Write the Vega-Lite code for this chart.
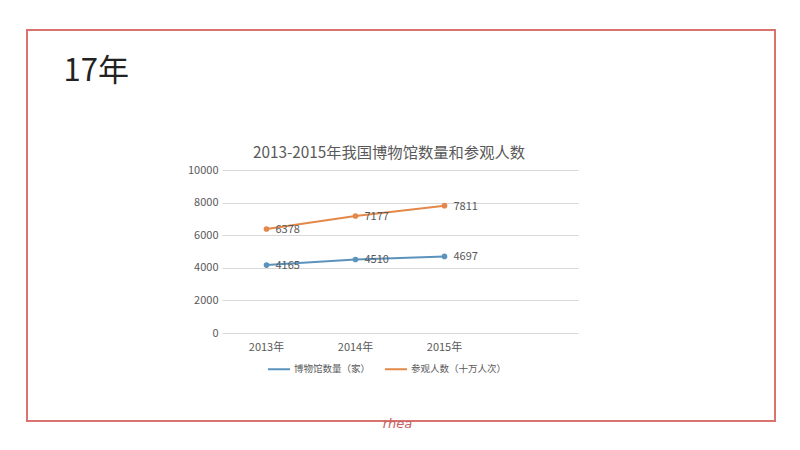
{
  "$schema": "https://vega.github.io/schema/vega-lite/v6.json",
  "autosize": "none",
  "width": 748,
  "height": 391,
  "padding": {"left": 27, "top": 30, "right": 25, "bottom": 29},
  "background": "white",
  "config": {
    "view": {"stroke": "#d8736f", "strokeWidth": 2},
    "font": "Noto Sans CJK SC"
  },
  "title": {
    "text": "2013-2015年我国博物馆数量和参观人数",
    "anchor": "middle",
    "frame": "group",
    "dx": -12,
    "offset": -131,
    "fontSize": 15.3,
    "fontWeight": "normal",
    "color": "#595959",
    "font": "Noto Sans CJK SC"
  },
  "data": {
    "values": [
      {"year": "2013年", "series": "博物馆数量（家）", "value": 4165},
      {"year": "2014年", "series": "博物馆数量（家）", "value": 4510},
      {"year": "2015年", "series": "博物馆数量（家）", "value": 4697},
      {"year": "2013年", "series": "参观人数（十万人次）", "value": 6378},
      {"year": "2014年", "series": "参观人数（十万人次）", "value": 7177},
      {"year": "2015年", "series": "参观人数（十万人次）", "value": 7811}
    ]
  },
  "encoding": {
    "x": {
      "field": "year",
      "type": "nominal",
      "scale": {"type": "band", "domain": ["2013年", "2014年", "2015年", "_"], "range": [195, 551], "paddingInner": 0, "paddingOuter": 0},
      "axis": {
        "orient": "bottom",
        "offset": -88,
        "labelExpr": "datum.value == '_' ? '' : datum.label",
        "labelAngle": 0,
        "labelFontSize": 11,
        "labelColor": "#595959",
        "labelPadding": 8,
        "ticks": false,
        "domain": false,
        "grid": false,
        "title": "rhea",
        "titleX": 370,
        "titleY": 90,
        "titleAlign": "center",
        "titleBaseline": "middle",
        "titleFontSize": 13,
        "titleFontStyle": "italic",
        "titleFontWeight": "normal",
        "titleColor": "#c9625f",
        "titleFont": "DejaVu Sans"
      }
    },
    "y": {
      "field": "value",
      "type": "quantitative",
      "scale": {"domain": [0, 10000], "range": [303, 140], "nice": false, "zero": true},
      "axis": {
        "orient": "left",
        "offset": -195,
        "values": [0, 2000, 4000, 6000, 8000, 10000],
        "format": "d",
        "labelFontSize": 11,
        "labelColor": "#595959",
        "labelPadding": 4,
        "ticks": false,
        "domain": false,
        "grid": true,
        "gridColor": "#d9d9d9",
        "gridWidth": 1,
        "title": "17年",
        "titleAngle": 0,
        "titleX": -159,
        "titleY": 50,
        "titleAlign": "left",
        "titleBaseline": "alphabetic",
        "titleFontSize": 31,
        "titleFontWeight": "normal",
        "titleColor": "#222222",
        "titleFont": "Noto Sans CJK SC"
      }
    },
    "color": {
      "field": "series",
      "type": "nominal",
      "scale": {"domain": ["博物馆数量（家）", "参观人数（十万人次）"], "range": ["#5b93bd", "#e3884a"]},
      "legend": {
        "orient": "none",
        "legendX": 240,
        "legendY": 327,
        "direction": "horizontal",
        "title": null,
        "symbolType": "stroke",
        "symbolSize": 484,
        "symbolStrokeWidth": 2,
        "labelFontSize": 9.5,
        "labelColor": "#595959",
        "labelOffset": 3,
        "columnPadding": 10
      }
    }
  },
  "layer": [
    {
      "mark": {"type": "line", "strokeWidth": 2, "point": {"filled": true, "size": 32}}
    },
    {
      "mark": {"type": "text", "align": "left", "baseline": "middle", "dx": 9, "dy": 1, "fontSize": 11, "color": "#595959"},
      "encoding": {
        "text": {"field": "value", "type": "quantitative", "format": "d"},
        "color": {"value": "#595959"}
      }
    }
  ]
}
